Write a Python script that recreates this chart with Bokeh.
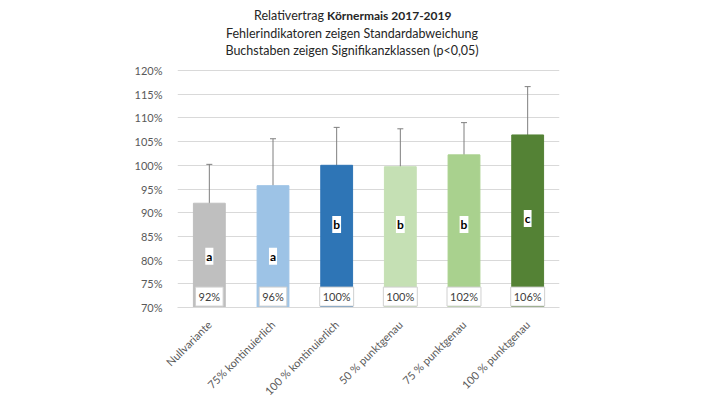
from bokeh.plotting import figure
from bokeh.models import (ColumnDataSource, Whisker, TeeHead,
                          FixedTicker, PrintfTickFormatter, Range1d)
from bokeh.core.properties import value
from bokeh.embed import file_html
from bokeh.resources import INLINE
import math

categories = ["Nullvariante", "75% kontinuierlich", "100 % kontinuierlich",
              "50 % punktgenau", "75 % punktgenau", "100 % punktgenau"]
values = [92.0, 95.7, 100.0, 99.7, 102.2, 106.4]
err_upper = [100.2, 105.6, 108.0, 107.7, 109.0, 116.6]
err_lower = [83.6, 85.6, 91.7, 91.7, 95.3, 96.2]
letters = ["a", "a", "b", "b", "b", "c"]
letter_y = [80.8, 80.8, 87.5, 87.5, 87.5, 88.8]
colors = ["#bfbfbf", "#9dc3e6", "#2e75b6", "#c5e0b4", "#a9d18e", "#548235"]
y_ticks = [70, 75, 80, 85, 90, 95, 100, 105, 110, 115, 120]
title_plain = "Relativertrag"
title_bold = "Körnermais 2017-2019"
subtitle_1 = "Fehlerindikatoren zeigen Standardabweichung"
subtitle_2 = "Buchstaben zeigen Signifikanzklassen (p<0,05)"

FONT = "Lato"
xs = list(range(len(categories)))

src = ColumnDataSource(dict(
    x=xs, val=values, up=err_upper, lo=err_lower,
    letter=letters, ly=letter_y, color=colors,
    pct=["%d%%" % round(v) for v in values],
    base=[72.3] * len(values),
))

PX = 237 / 50.0          # pixels per percent point
Y_TOP = 120 + 62 / PX     # frame extends up toward the top of the canvas

p = figure(x_range=Range1d(-0.5, len(categories) - 0.5), y_range=Range1d(70, Y_TOP),
           frame_width=382, frame_height=299,
           min_border_left=177, min_border_right=130, min_border_top=8, min_border_bottom=82,
           output_backend="svg", toolbar_location=None, title=None)
p.outline_line_color = None
p.background_fill_color = "white"
p.border_fill_color = "white"

p.vbar(x="x", top="val", bottom=70, width=0.5, color="color", source=src)

wh = Whisker(base="x", upper="up", lower="lo", source=src,
             line_color="#7f7f7f", line_width=1,
             upper_head=TeeHead(size=6, line_color="#7f7f7f", line_width=1),
             lower_head=TeeHead(size=6, line_color="#7f7f7f", line_width=1))
p.add_layout(wh)

p.text(x="x", y="base", text="pct", source=src,
       text_align="center", text_baseline="middle",
       text_font=value(FONT), text_font_size="11px", text_color="#404040",
       background_fill_color="white", border_line_color="#d0d0d0",
       border_line_width=1, padding=3)

p.text(x="x", y="ly", text="letter", source=src,
       text_align="center", text_baseline="middle",
       text_font=value(FONT), text_font_size="12px", text_font_style="bold",
       text_color="black", background_fill_color="white", padding=1)

# axes
p.yaxis.ticker = FixedTicker(ticks=y_ticks)
p.yaxis.formatter = PrintfTickFormatter(format="%d%%")
p.yaxis.axis_line_color = None
p.yaxis.major_tick_line_color = None
p.yaxis.minor_tick_line_color = None
p.yaxis.major_label_standoff = 9
p.yaxis.major_label_text_font = FONT
p.yaxis.major_label_text_font_size = "11px"
p.yaxis.major_label_text_color = "#595959"

p.xaxis.ticker = FixedTicker(ticks=xs)
p.xaxis.major_label_overrides = {i: c for i, c in zip(xs, categories)}
p.xaxis.axis_line_color = "#d9d9d9"
p.xaxis.major_tick_line_color = None
p.xaxis.minor_tick_line_color = None
p.xaxis.major_label_orientation = math.pi / 4
p.xaxis.major_label_standoff = 9
p.xaxis.major_label_text_font = FONT
p.xaxis.major_label_text_font_size = "11px"
p.xaxis.major_label_text_color = "#595959"

p.xgrid.grid_line_color = None
p.ygrid.grid_line_color = "#d9d9d9"
p.ygrid.ticker = FixedTicker(ticks=y_ticks)

# title lines
tcol = "#262626"
p.text(x=[1.80], y=[131.6], text=[title_plain], text_align="right", text_baseline="middle",
       text_font=value(FONT), text_font_size="12.5px", text_color=tcol)
p.text(x=[1.85], y=[131.6], text=[title_bold], text_align="left", text_baseline="middle",
       text_font=value(FONT), text_font_size="12px", text_font_style="bold", text_color=tcol)
p.text(x=[2.241], y=[127.8], text=[subtitle_1], text_align="center", text_baseline="middle",
       text_font=value(FONT), text_font_size="12.5px", text_color=tcol)
p.text(x=[2.241], y=[124.2], text=[subtitle_2], text_align="center", text_baseline="middle",
       text_font=value(FONT), text_font_size="12.5px", text_color=tcol)

open("out.html", "w").write(file_html(p, INLINE))
